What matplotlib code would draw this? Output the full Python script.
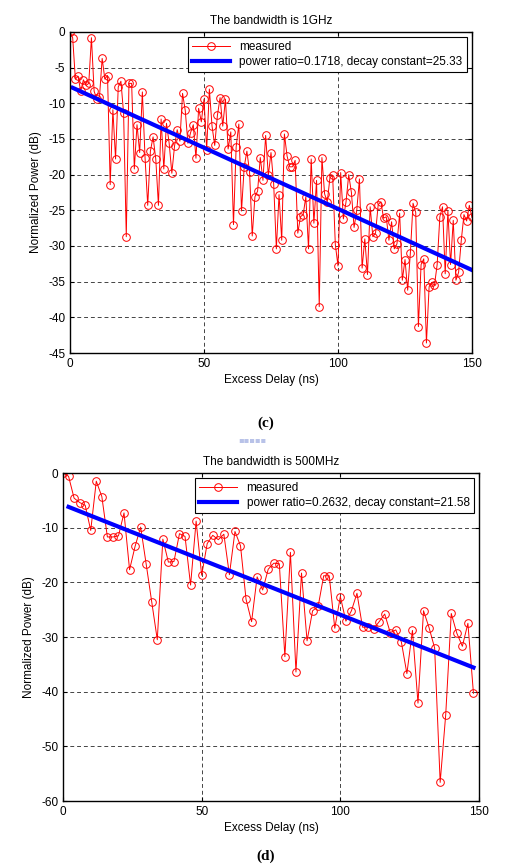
import numpy as np
import matplotlib
matplotlib.use("Agg")
import matplotlib.pyplot as plt

plt.rcParams["font.family"] = ["Liberation Sans", "DejaVu Sans"]
plt.rcParams["axes.unicode_minus"] = False

# (c) 1 GHz bandwidth, 1 ns bins
delay_1g = list(range(0, 151))
power_1g = [
    0.0, -0.8, -6.6, -6.2, -8.3, -6.7, -7.5, -7.2, -0.8, -8.3,
    -9.4, -9.1, -3.7, -6.6, -6.1, -21.4, -10.9, -17.8, -7.7, -6.9,
    -11.4, -28.7, -7.2, -7.2, -19.2, -13.0, -16.9, -8.4, -17.6, -24.3,
    -16.7, -14.7, -17.8, -24.3, -12.2, -19.2, -12.8, -15.6, -19.8, -16.0,
    -13.7, -15.3, -8.6, -11.0, -15.6, -14.1, -13.0, -17.7, -10.7, -12.6,
    -9.4, -16.5, -8.0, -13.2, -15.9, -11.7, -9.2, -13.2, -9.4, -16.4,
    -14.0, -27.0, -16.1, -12.9, -25.1, -18.9, -16.7, -19.6, -28.6, -23.1,
    -22.3, -17.6, -20.8, -14.5, -20.1, -16.9, -21.3, -30.4, -22.8, -29.2,
    -14.3, -17.4, -18.9, -18.9, -18.0, -28.2, -25.9, -25.6, -23.1, -30.4,
    -17.8, -26.8, -20.8, -38.5, -17.6, -22.7, -23.8, -20.4, -20.1, -29.8,
    -32.8, -19.7, -26.2, -23.8, -20.0, -22.5, -27.4, -25.0, -20.6, -33.1,
    -29.0, -34.0, -24.5, -28.7, -28.2, -24.2, -23.8, -26.1, -25.9, -29.2,
    -26.6, -30.4, -29.7, -25.4, -34.8, -31.9, -36.2, -31.0, -24.0, -25.3,
    -41.3, -32.6, -31.8, -43.6, -35.7, -35.1, -35.5, -32.6, -25.9, -24.5,
    -33.9, -25.1, -32.6, -26.4, -34.8, -33.7, -29.2, -25.6, -26.5, -24.3,
    -26.0,
]
ratio_1g = 0.1718
decay_1g = 25.33

# (d) 500 MHz bandwidth, 2 ns bins
delay_500m = list(range(0, 150, 2))
power_500m = [
    0.0, -0.6, -4.6, -5.4, -5.9, -10.5, -1.5, -4.3, -11.7, -11.7,
    -11.5, -7.3, -17.7, -13.4, -9.9, -16.7, -23.6, -30.5, -12.1, -16.3,
    -16.2, -11.1, -11.6, -20.5, -8.8, -18.7, -12.9, -11.4, -12.2, -11.2,
    -18.6, -10.7, -13.3, -23.1, -27.2, -19.0, -21.4, -17.6, -16.5, -16.6,
    -33.6, -14.5, -36.4, -18.3, -30.7, -25.2, -24.4, -18.8, -18.8, -28.4,
    -22.6, -27.1, -25.2, -22.0, -28.2, -28.2, -28.5, -27.2, -25.8, -29.2,
    -28.7, -30.9, -36.7, -28.8, -42.1, -25.2, -28.3, -32.0, -56.6, -44.2,
    -25.7, -29.3, -31.7, -27.5, -40.3,
]
ratio_500m = 0.2632
decay_500m = 21.58


def draw_panel(ax, delay, power, ratio, decay, title, ylim, yticks):
    t = np.asarray(delay[1:], dtype=float)
    fit = 10 * np.log10(ratio * np.exp(-t / decay))
    ax.plot(delay, power, color="red", linewidth=0.7, marker="o", markersize=5.5,
            markerfacecolor="none", markeredgewidth=0.7, label="measured")
    ax.plot(t, fit, color="#0000ff", linewidth=3,
            label=f"power ratio={ratio:.4f}, decay constant={decay:.2f}")
    ax.set_xlim(0, 150)
    ax.set_ylim(*ylim)
    ax.set_xticks([0, 50, 100, 150])
    ax.set_yticks(yticks)
    ax.grid(True, color="#444444", linestyle=(0, (4, 3)), linewidth=0.7)
    ax.tick_params(direction="in", labelsize=8.5, length=3, top=True, right=True)
    for spine in ax.spines.values():
        spine.set_linewidth(1.0)
    ax.set_title(title, fontsize=8.5, pad=6)
    ax.set_xlabel("Excess Delay (ns)", fontsize=8.5, labelpad=3)
    ax.set_ylabel("Normalized Power (dB)", fontsize=8.5, labelpad=4)
    leg = ax.legend(loc="upper right", fontsize=8.5, fancybox=False, framealpha=1,
                    edgecolor="black", borderaxespad=0.45, handlelength=3.2,
                    borderpad=0.35, labelspacing=0.2)
    leg.get_frame().set_linewidth(0.8)


fig = plt.figure(figsize=(5.32, 8.66), dpi=100, facecolor="white")

ax_c = fig.add_axes([70 / 532, 1 - 353 / 866, 402 / 532, 321 / 866])
draw_panel(ax_c, delay_1g, power_1g, ratio_1g, decay_1g,
           "The bandwidth is 1GHz", (-45, 0), list(range(-45, 1, 5)))

ax_d = fig.add_axes([63 / 532, 1 - 801 / 866, 416 / 532, 328 / 866])
draw_panel(ax_d, delay_500m, power_500m, ratio_500m, decay_500m,
           "The bandwidth is 500MHz", (-60, 0), list(range(-60, 1, 10)))

fig.text(266 / 532, 1 - 423 / 866, "(c)", ha="center", va="center",
         fontsize=11, fontweight="bold", family="Liberation Serif")
fig.text(266 / 532, 1 - 856 / 866, "(d)", ha="center", va="center",
         fontsize=11, fontweight="bold", family="Liberation Serif")
# faint stamp under (c)
fig.text(252 / 532, 1 - 440 / 866, "▪▪▪▪▪", ha="center", va="center",
         fontsize=6, color="#b8c2e8", family="DejaVu Sans")

fig.savefig("out.png", dpi=100)
